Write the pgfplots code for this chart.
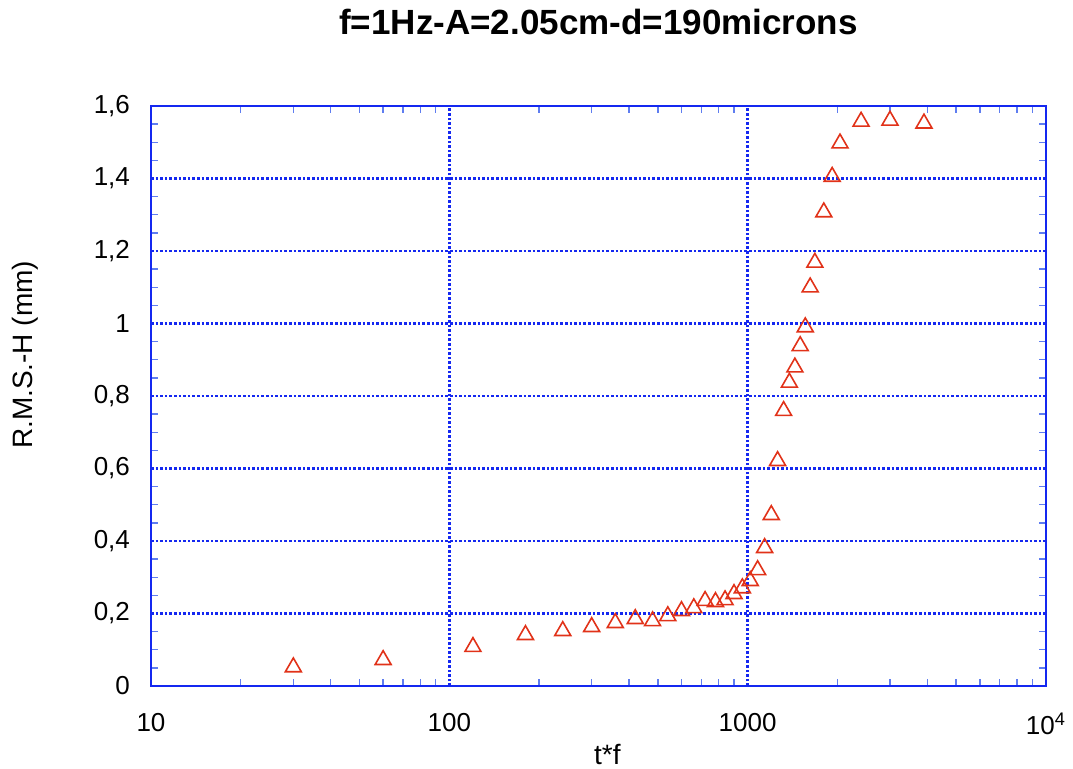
\documentclass[border=0pt]{standalone}
\usepackage{pgfplots}
\pgfplotsset{compat=1.18}
\usepackage{fontspec}
\setmainfont{Liberation Sans}

\definecolor{gridblue}{RGB}{20,40,240}
\definecolor{tickblue}{RGB}{95,125,240}
\definecolor{markred}{RGB}{225,50,25}

\pgfplotstableread{
tf    rms
30    0.052
60    0.072
120   0.108
180   0.141
240   0.152
300   0.163
360   0.174
420   0.185
480   0.179
540   0.193
600   0.207
660   0.215
720   0.235
780   0.232
840   0.237
900   0.254
960   0.270
1020  0.290
1080  0.320
1140  0.381
1200  0.472
1260  0.621
1320  0.759
1380  0.837
1440  0.879
1500  0.938
1560  0.990
1620  1.100
1680  1.168
1800  1.307
1920  1.405
2040  1.497
2400  1.557
3000  1.560
3900  1.552
}\rmsdata

\begin{document}
\begin{tikzpicture}
\begin{axis}[
  scale only axis,
  width=447.5pt, height=290pt,
  at={(0pt,0pt)}, anchor=south west,
  xmode=log, log basis x=10,
  xmin=10, xmax=10000, ymin=0, ymax=1.6,
  xtick={10,100,1000,10000},
  xticklabels={10,100,1000,10\textsuperscript{4}},
  minor xtick={20,30,40,50,60,70,80,90,200,300,400,500,600,700,800,900,
    2000,3000,4000,5000,6000,7000,8000,9000},
  ytick={0,0.2,0.4,0.6,0.8,1,1.2,1.4,1.6},
  yticklabels={0,{0,2},{0,4},{0,6},{0,8},1,{1,2},{1,4},{1,6}},
  minor y tick num=3,
  tick align=inside,
  major tick length=0pt,
  minor tick length=3.5pt,
  axis line style={gridblue, line width=1pt},
  every minor tick/.style={tickblue, line width=0.7pt},
  grid=major,
  major grid style={gridblue, dash pattern=on 1.3pt off 1pt, line width=1.35pt},
  minor grid style={draw=none},
  tick label style={font=\fontsize{13}{15}\selectfont},
  yticklabel style={xshift=-7pt},
  xticklabel style={yshift=-10pt},
  xlabel={t*f},
  ylabel={R.M.S.-H (mm)},
  label style={font=\fontsize{14}{16}\selectfont},
  xlabel style={at={(rel axis cs:0.51,0)}, anchor=center, yshift=-34pt},
  ylabel style={at={(rel axis cs:0,0.571)}, anchor=center, yshift=63pt},
  title={f=1Hz-A=2.05cm-d=190microns},
  title style={font=\bfseries\fontsize{17.5}{20}\selectfont,
    at={(rel axis cs:0.5,1)}, anchor=center, yshift=36pt},
]
\addplot[only marks, mark=triangle, mark size=4.6pt,
  mark options={draw=markred, line width=0.8pt}] table[x=tf, y=rms] {\rmsdata};
\end{axis}
\pgfresetboundingbox
\useasboundingbox (-75.5pt,-41.5pt) rectangle (461pt,343pt);
\end{tikzpicture}
\end{document}
